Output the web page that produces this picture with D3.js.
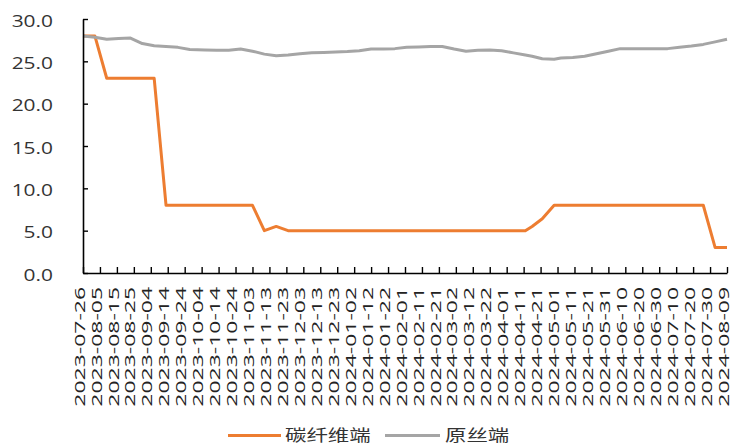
<!DOCTYPE html>
<html>
<head>
<meta charset="utf-8">
<script src="https://cdn.jsdelivr.net/npm/d3@7/dist/d3.min.js"></script>
<style>
  html, body { margin: 0; padding: 0; background: #fff; }
  svg { display: block; }
</style>
</head>
<body>
<svg id="chart" width="735" height="445"></svg>
<script>
// ---- data ----
const dates = [
  "2023-07-26","2023-08-02","2023-08-09","2023-08-16","2023-08-23","2023-08-30","2023-09-06","2023-09-13",
  "2023-09-20","2023-09-27","2023-10-06","2023-10-13","2023-10-20","2023-10-27","2023-11-03","2023-11-10",
  "2023-11-17","2023-11-24","2023-12-01","2023-12-08","2023-12-15","2023-12-22","2023-12-29","2024-01-05",
  "2024-01-12","2024-01-19","2024-01-26","2024-02-02","2024-02-09","2024-02-16","2024-02-23","2024-03-01",
  "2024-03-08","2024-03-15","2024-03-22","2024-03-29","2024-04-05","2024-04-12","2024-04-16","2024-04-22",
  "2024-04-29","2024-05-03","2024-05-10","2024-05-17","2024-05-24","2024-05-31","2024-06-07","2024-06-14",
  "2024-06-21","2024-06-28","2024-07-05","2024-07-12","2024-07-19","2024-07-26","2024-08-02","2024-08-09"
];
const carbonFiber = [
  28, 28, 23, 23, 23, 23, 23, 8,
  8, 8, 8, 8, 8, 8, 8, 5,
  5.5, 5, 5, 5, 5, 5, 5, 5,
  5, 5, 5, 5, 5, 5, 5, 5,
  5, 5, 5, 5, 5, 5, 5.5, 6.4,
  8, 8, 8, 8, 8, 8, 8, 8,
  8, 8, 8, 8, 8, 8, 3, 3
];
const precursor = [
  28.0, 27.85, 27.6, 27.7, 27.75, 27.1, 26.85, 26.75,
  26.65, 26.4, 26.35, 26.3, 26.3, 26.45, 26.2, 25.85,
  25.65, 25.75, 25.9, 26.0, 26.05, 26.1, 26.15, 26.25,
  26.45, 26.45, 26.5, 26.65, 26.7, 26.75, 26.75, 26.45,
  26.2, 26.3, 26.35, 26.25, 26.0, 25.75, 25.6, 25.3,
  25.25, 25.4, 25.45, 25.6, 25.9, 26.2, 26.5, 26.5,
  26.5, 26.5, 26.5, 26.65, 26.8, 27.0, 27.3, 27.6
];
const seriesNames = ["碳纤维端", "原丝端"];
const tickLabels = [
  "2023-07-26","2023-08-05","2023-08-15","2023-08-25","2023-09-04","2023-09-14","2023-09-24","2023-10-04",
  "2023-10-14","2023-10-24","2023-11-03","2023-11-13","2023-11-23","2023-12-03","2023-12-13","2023-12-23",
  "2024-01-02","2024-01-12","2024-01-22","2024-02-01","2024-02-11","2024-02-21","2024-03-02","2024-03-12",
  "2024-03-22","2024-04-01","2024-04-11","2024-04-21","2024-05-01","2024-05-11","2024-05-21","2024-05-31",
  "2024-06-10","2024-06-20","2024-06-30","2024-07-10","2024-07-20","2024-07-30","2024-08-09"
];
const yTicks = [0, 5, 10, 15, 20, 25, 30];

// ---- chart ----
(function () {
const parse = d3.utcParse("%Y-%m-%d");
const fmt = d3.utcFormat("%Y-%m-%d");
const colors = ["#ED7D31", "#A5A5A5"];

const svg = d3.select("#chart");
const mLeft = 83, mRight = 727, mTop = 19, mBottom = 273;

const x = d3.scaleUtc()
  .domain([parse(tickLabels[0]), parse(tickLabels[tickLabels.length - 1])])
  .range([mLeft, mRight]);
const y = d3.scaleLinear().domain([0, 30]).range([mBottom, mTop]);

// lines
const series = [carbonFiber, precursor];
const line = d3.line()
  .x((d, i) => x(parse(dates[i])))
  .y(d => y(d));
series.forEach((vals, k) => {
  svg.append("path")
    .datum(vals)
    .attr("fill", "none")
    .attr("stroke", colors[k])
    .attr("stroke-width", 3)
    .attr("stroke-linejoin", "round")
    .attr("d", line);
});

// y axis
const yAxis = svg.append("g")
  .attr("transform", `translate(${mLeft},0)`)
  .call(d3.axisLeft(y).tickValues(yTicks).tickFormat(d3.format(".1f"))
    .tickSizeInner(-5).tickSizeOuter(0));
yAxis.select(".domain").attr("stroke", "#000").attr("stroke-width", 1.6);
yAxis.selectAll(".tick line").attr("stroke", "#000").attr("stroke-width", 1.4);
yAxis.selectAll(".tick text")
  .attr("x", null).attr("dy", null)
  .attr("text-anchor", "end")
  .attr("dominant-baseline", "central")
  .attr("transform", "translate(-30,1) scale(1.23,1)")
  .attr("fill", "#333")
  .style("font-family", "'Open Sans', sans-serif")
  .style("font-size", "17px");

// x axis
const xAxis = svg.append("g")
  .attr("transform", `translate(0,${mBottom})`)
  .call(d3.axisBottom(x).tickValues(tickLabels.map(parse)).tickFormat(fmt)
    .tickSizeInner(-6).tickSizeOuter(0));
xAxis.select(".domain").attr("stroke", "#000").attr("stroke-width", 1.6);
xAxis.selectAll(".tick line").attr("stroke", "#000").attr("stroke-width", 1.4);
xAxis.selectAll(".tick text")
  .attr("y", null).attr("dy", null)
  .attr("text-anchor", "end")
  .attr("dominant-baseline", "central")
  .attr("transform", "translate(-4,14) rotate(-90) scale(1.64,1)")
  .attr("fill", "#222")
  .style("font-family", "'Open Sans', sans-serif")
  .style("font-size", "14px");

// legend
const legendItems = [
  { x1: 228, x2: 281, tx: 285 },
  { x1: 385, x2: 440, tx: 445 }
];
const legend = svg.append("g");
seriesNames.forEach((name, k) => {
  const it = legendItems[k];
  legend.append("line")
    .attr("x1", it.x1).attr("x2", it.x2)
    .attr("y1", 435.5).attr("y2", 435.5)
    .attr("stroke", colors[k]).attr("stroke-width", 3);
  legend.append("text")
    .attr("transform", `translate(${it.tx},434) scale(1.34,1)`)
    .attr("dominant-baseline", "central")
    .attr("fill", "#333")
    .style("font-family", "'Noto Sans CJK SC', sans-serif")
    .style("font-size", "16px")
    .text(name);
});
})();
</script>
</body>
</html>
